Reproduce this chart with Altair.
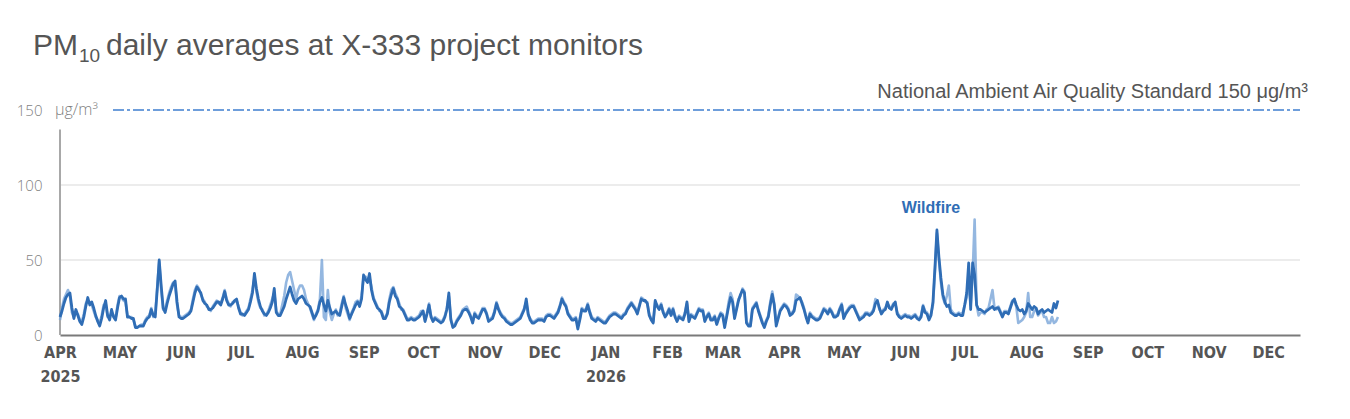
import altair as alt
import pandas as pd

# ---------------- data (daily PM10, µg/m³) ----------------
series_months = ["2025-04", "2025-05", "2025-06", "2025-07", "2025-08", "2025-09",
                 "2025-10", "2025-11", "2025-12", "2026-01", "2026-02", "2026-03",
                 "2026-04", "2026-05", "2026-06", "2026-07", "2026-08"]

# Monitor A (darker line)
apr25_a = [12,16,21,25,27,28,18,11,17,13,9,7,12,19,25,20,22,18,13,9,6,11,18,23,13,10,17,12,10,18]
may25_a = [25,26,24,24,12,12,11,11,5,5,6,6,6,9,11,12,17,13,12,30,50,33,18,15,21,26,30,34,36,22,12]
jun25_a = [11,11,12,13,14,16,22,28,32,30,28,23,21,20,17,17,18,20,22,22,20,24,29,23,20,20,21,23,24,18]
jul25_a = [14,14,13,15,17,22,28,41,31,24,19,16,14,13,15,18,22,31,15,13,13,16,19,24,28,32,27,23,21,24,25]
aug25_a = [26,24,21,20,19,15,11,13,16,22,25,20,16,23,18,14,15,16,14,13,19,25,20,16,11,14,17,20,22,19,24]
sep25_a = [40,37,35,41,30,24,21,18,17,15,11,11,14,22,27,31,26,24,19,18,16,13,10,10,11,10,10,11,12,14]
oct25_a = [16,9,14,20,12,9,11,10,9,8,9,12,17,28,10,5,6,9,11,13,16,17,17,15,12,8,14,12,11,14,17]
nov25_a = [17,14,9,10,11,15,21,17,14,12,11,9,8,7,7,8,9,10,11,14,17,24,14,10,8,8,9,10,10,10]
dec25_a = [9,12,13,13,12,11,13,15,19,24,21,19,14,12,10,10,11,4,10,17,16,16,20,15,11,10,9,11,10,9,8]
jan26_a = [8,10,12,13,14,14,13,12,11,13,14,17,19,21,19,17,14,19,24,23,23,21,13,10,8,23,19,17,20,15,12]
feb26_a = [14,17,13,17,12,9,12,11,10,14,22,9,13,12,11,14,17,16,16,9,12,14,10,10,12,7,11,14]
mar26_a = [13,5,12,19,25,22,11,17,23,27,30,28,8,6,6,17,19,21,16,12,8,5,9,12,20,27,20,6,11,16,18]
apr26_a = [20,19,17,13,14,16,23,24,25,21,17,12,8,14,12,11,10,10,11,14,17,16,14,17,15,12,12,13,17,20]
may26_a = [11,14,16,18,19,19,16,13,10,11,12,14,14,13,14,16,21,23,18,14,16,17,22,18,17,20,22,14,12,11,12]
jun26_a = [13,12,12,11,12,13,11,10,12,19,15,14,10,13,22,45,70,52,38,27,22,19,20,15,14,13,13,14,13,13]
jul26_a = [20,28,48,17,48,40,20,17,17,16,15,16,17,18,19,17,18,18,15,12,15,15,14,18,22,24,20,17,16,17,14]
aug26_a = [16,21,19,17,19,18,14,16,17,15,16,17,16,15,21,18,23]

# Monitor B (lighter line)
apr25_b = [10,18,24,27,30,26,15,12,15,14,10,9,14,21,23,22,20,16,12,10,8,13,20,21,12,12,15,13,11,20]
may25_b = [26,25,23,22,13,12,12,10,6,5,6,7,7,10,12,13,18,12,14,32,49,30,17,17,23,28,32,35,34,20,13]
jun25_b = [12,12,13,14,15,17,24,30,33,31,27,24,22,19,18,16,19,21,23,21,21,25,30,24,21,19,22,22,23,19]
jul25_b = [15,13,14,16,18,24,30,38,29,22,18,17,13,14,16,20,24,28,16,14,14,20,26,35,40,42,36,30,24,30,33]
aug25_b = [33,30,24,21,18,14,10,14,17,24,50,12,10,30,15,10,14,17,13,15,21,26,18,14,10,15,18,22,23,20,26]
sep25_b = [38,39,37,38,32,25,22,19,16,16,12,12,15,24,30,32,28,25,21,17,17,14,11,11,12,11,11,12,13,16]
oct25_b = [16,10,15,21,13,10,12,11,10,9,10,13,18,26,11,6,7,10,12,14,17,18,19,16,13,9,15,13,12,15,18]
nov25_b = [18,15,10,11,12,16,22,18,15,13,12,10,9,8,8,9,10,11,12,15,18,22,13,11,9,9,10,11,11,11]
dec25_b = [10,13,14,14,13,12,14,16,20,25,22,20,15,13,11,11,12,6,11,18,17,17,21,16,12,11,10,12,11,10,9]
jan26_b = [9,11,13,14,15,15,14,13,12,14,15,18,20,22,20,18,15,20,25,24,22,22,14,11,9,22,20,18,21,16,13]
feb26_b = [15,18,14,18,13,10,13,12,11,15,21,10,14,13,12,15,18,17,17,10,13,15,11,11,13,8,12,15]
mar26_b = [14,7,13,22,28,24,12,18,24,26,31,29,9,7,7,18,20,22,17,13,9,6,10,13,22,29,21,8,12,17,19]
apr26_b = [21,20,18,14,15,17,27,26,24,22,18,13,9,15,13,12,11,11,12,15,18,17,15,18,16,13,13,14,18,21]
may26_b = [12,15,17,19,20,20,17,14,11,12,13,15,15,14,15,17,24,22,17,15,17,18,21,19,18,21,21,15,13,12,13]
jun26_b = [14,13,13,12,13,14,12,11,13,20,16,15,11,14,20,42,68,50,35,25,21,26,33,17,15,14,14,15,14,15]
jul26_b = [20,25,35,20,40,77,20,13,15,15,14,17,18,24,30,18,17,19,16,13,16,16,15,19,23,23,19,8,9,10,12]
aug26_b = [15,28,12,12,16,17,13,15,16,12,12,8,8,12,8,9,12]

monitor_a = [apr25_a, may25_a, jun25_a, jul25_a, aug25_a, sep25_a, oct25_a, nov25_a, dec25_a,
             jan26_a, feb26_a, mar26_a, apr26_a, may26_a, jun26_a, jul26_a, aug26_a]
monitor_b = [apr25_b, may25_b, jun25_b, jul25_b, aug25_b, sep25_b, oct25_b, nov25_b, dec25_b,
             jan26_b, feb26_b, mar26_b, apr26_b, may26_b, jun26_b, jul26_b, aug26_b]

# axis tick months (labels)
tick_months = [(2025, m) for m in range(4, 13)] + [(2026, m) for m in range(1, 13)]
y_ticks = [0, 50, 100, 150]
grid_values = [50, 100]
naaqs_value = 150
naaqs_label = "National Ambient Air Quality Standard 150 μg/m³"
unit_label = "μg/m³"
event_label = "Wildfire"
event_date = (2026, 6, 14)
event_value = 85
title_main = "PM"
title_sub = "10"
title_rest = "daily averages at X-333 project monitors"


def build(lists):
    rows = []
    for start, vals in zip(series_months, lists):
        days = pd.date_range(start + "-01", periods=len(vals), freq="D")
        for d, v in zip(days, vals):
            rows.append({"date": d.strftime("%Y-%m-%dT00:00:00"), "pm10": v})
    return pd.DataFrame(rows)


df_a = build(monitor_a)
df_b = build(monitor_b)

# ---------------- styling ----------------
NARROW = "Liberation Sans Narrow, DejaVu Sans Condensed, Roboto Condensed, sans-serif"
LIGHTF = "Open Sans, Lato, sans-serif"
SANS = "Liberation Sans, Arial, sans-serif"
DARK = "#2f6db5"
LIGHT = "#79a5d8"
TITLE_GRAY = "#555555"

x_domain = [alt.DateTime(year=2025, month=4, date=1), alt.DateTime(year=2026, month=12, date=17)]
x_values = [alt.DateTime(year=y, month=m, date=1) for y, m in tick_months]

label_expr = ("(month(datum.value) == 0 || (year(datum.value) == 2025 && month(datum.value) == 3)) ? "
              "[upper(timeFormat(datum.value, '%b')), timeFormat(datum.value, '%Y')] : "
              "upper(timeFormat(datum.value, '%b'))")

x_enc = alt.X(
    "date:T",
    scale=alt.Scale(domain=x_domain),
    axis=alt.Axis(
        title=None, values=x_values, labelExpr=label_expr, ticks=False, grid=False,
        domainColor="#7a7a7a", domainWidth=2, labelFont=NARROW, labelFontWeight="bold",
        labelFontSize=16, labelColor="#555555", labelPadding=9, labelFlush=False,
        labelOverlap=False, labelLineHeight=24,
    ),
)
y_enc = alt.Y(
    "pm10:Q",
    scale=alt.Scale(domain=[0, 150], nice=False),
    axis=alt.Axis(
        title=None, values=y_ticks, ticks=False, grid=False, domain=False,
        labelFont=LIGHTF, labelFontWeight=300, labelFontSize=15, labelColor="#7f7f7f",
        labelPadding=18,
    ),
)

one = pd.DataFrame({"a": [0]})

grid = alt.Chart(pd.DataFrame({"v": grid_values})).mark_rule(
    color="#ececec", strokeWidth=2
).encode(y="v:Q")

yaxis_line = alt.Chart(one).mark_rule(
    color="#a8a8a8", strokeWidth=2
).encode(x=alt.value(0), y=alt.datum(0), y2=alt.datum(137))

line_b = alt.Chart(df_b).mark_line(
    color=LIGHT, strokeWidth=2.6, opacity=0.8, strokeJoin="round"
).encode(x=x_enc, y=y_enc)

line_a = alt.Chart(df_a).mark_line(
    color=DARK, strokeWidth=2.8, strokeJoin="round"
).encode(x="date:T", y="pm10:Q")

naaqs_rule = alt.Chart(one).mark_rule(
    color="#3f7fcf", strokeWidth=1.5, strokeDash=[11, 3, 3, 3]
).encode(x=alt.value(53), x2=alt.value(1240), y=alt.datum(naaqs_value))

naaqs_text = alt.Chart(one).mark_text(
    text=naaqs_label, align="right", baseline="alphabetic", dy=-12,
    font=SANS, fontSize=20, color="#555555"
).encode(x=alt.value(1248), y=alt.datum(naaqs_value))

unit_text = alt.Chart(one).mark_text(
    text=unit_label, align="left", baseline="middle",
    font=LIGHTF, fontWeight=300, fontSize=16, color="#7f7f7f"
).encode(x=alt.value(-5), y=alt.datum(naaqs_value))

event_text = alt.Chart(one).mark_text(
    text=event_label, align="center", baseline="middle",
    font=SANS, fontWeight="bold", fontSize=16, color=DARK
).encode(
    x=alt.datum(alt.DateTime(year=event_date[0], month=event_date[1], date=event_date[2])),
    y=alt.datum(event_value),
)

title_pm = alt.Chart(one).mark_text(
    text=title_main, align="left", baseline="alphabetic",
    font=SANS, fontSize=30, color=TITLE_GRAY
).encode(x=alt.value(-27), y=alt.value(-55))

title_10 = alt.Chart(one).mark_text(
    text=title_sub, align="left", baseline="alphabetic",
    font=SANS, fontSize=19, color=TITLE_GRAY
).encode(x=alt.value(19), y=alt.value(-48))

title_tail = alt.Chart(one).mark_text(
    text=title_rest, align="left", baseline="alphabetic",
    font=SANS, fontSize=30, color=TITLE_GRAY
).encode(x=alt.value(46), y=alt.value(-55))

chart = alt.layer(
    grid, yaxis_line, line_b, line_a, naaqs_rule, naaqs_text, unit_text, event_text,
    title_pm, title_10, title_tail
).properties(
    width=1240, height=225,
    autosize="none",
    padding={"left": 52, "top": 102, "right": 42, "bottom": 70},
).configure_view(stroke=None)

chart.save("out.html", embed_options={"renderer": "svg", "actions": False})
